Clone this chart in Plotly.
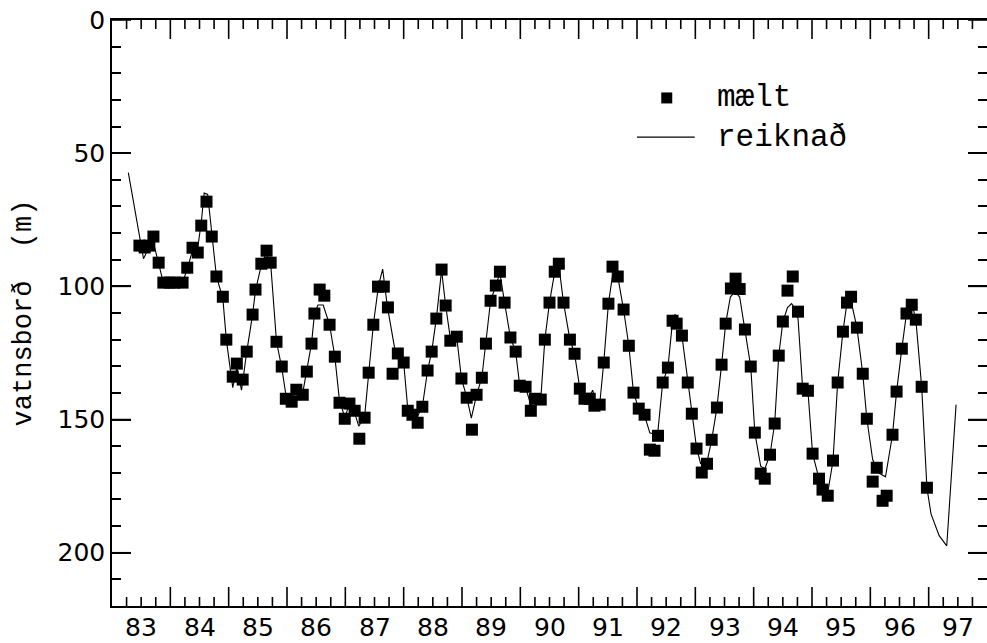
import plotly.graph_objects as go

# ---------------- data (decimal year, water level in m) ----------------
measured_year = [
    83.47, 83.56, 83.64, 83.71, 83.80, 83.88, 83.99, 84.07, 84.21, 84.29,
    84.38, 84.47, 84.53, 84.62, 84.71, 84.79, 84.90, 84.96, 85.07, 85.14,
    85.24, 85.31, 85.41, 85.46, 85.56, 85.65, 85.72, 85.82, 85.91, 85.98,
    86.08, 86.16, 86.27, 86.34, 86.42, 86.47, 86.56, 86.64, 86.73, 86.82,
    86.90, 86.99, 87.07, 87.16, 87.24, 87.33, 87.40, 87.48, 87.56, 87.66,
    87.73, 87.81, 87.90, 88.00, 88.07, 88.15, 88.24, 88.32, 88.41, 88.48,
    88.56, 88.65, 88.72, 88.80, 88.91, 88.99, 89.08, 89.17, 89.25, 89.34,
    89.41, 89.49, 89.58, 89.65, 89.73, 89.83, 89.92, 89.99, 90.09, 90.18,
    90.25, 90.35, 90.42, 90.50, 90.59, 90.66, 90.74, 90.85, 90.93, 91.02,
    91.10, 91.19, 91.27, 91.36, 91.43, 91.51, 91.58, 91.67, 91.77, 91.86,
    91.94, 92.03, 92.13, 92.22, 92.30, 92.36, 92.44, 92.53, 92.61, 92.68,
    92.77, 92.87, 92.94, 93.02, 93.11, 93.20, 93.28, 93.37, 93.45, 93.52,
    93.61, 93.69, 93.76, 93.85, 93.95, 94.02, 94.12, 94.19, 94.28, 94.36,
    94.43, 94.50, 94.58, 94.67, 94.76, 94.84, 94.93, 95.01, 95.12, 95.18,
    95.27, 95.36, 95.44, 95.53, 95.60, 95.67, 95.77, 95.87, 95.94, 96.04,
    96.11, 96.21, 96.28, 96.38, 96.45, 96.54, 96.62, 96.71, 96.78, 96.88,
    96.97,
]
measured_level = [
    84.7, 85.4, 84.7, 81.3, 91.1, 98.6, 98.6, 98.6, 98.6, 93.0,
    85.5, 87.3, 77.2, 68.2, 81.3, 96.3, 103.9, 120.0, 133.9, 129.0,
    135.0, 124.5, 110.6, 101.2, 91.5, 86.6, 91.1, 120.8, 130.1, 142.2,
    143.3, 138.8, 140.7, 132.0, 121.5, 110.2, 101.2, 103.5, 114.4, 126.4,
    143.7, 149.7, 144.0, 146.7, 157.2, 149.3, 132.4, 114.4, 100.1, 100.1,
    107.9, 132.8, 125.2, 128.6, 146.7, 148.2, 151.2, 145.2, 131.6, 124.5,
    112.1, 93.7, 107.2, 120.4, 118.9, 134.6, 141.8, 153.8, 140.7, 134.3,
    121.5, 105.4, 99.7, 94.5, 106.1, 119.2, 124.5, 137.3, 137.7, 146.7,
    142.2, 142.5, 120.0, 106.1, 94.5, 91.5, 106.1, 120.0, 125.3, 138.4,
    142.2, 142.2, 144.8, 144.4, 128.6, 106.5, 92.6, 96.3, 108.7, 122.3,
    139.9, 145.9, 148.2, 161.3, 161.7, 156.1, 136.1, 130.5, 112.9, 114.0,
    118.5, 136.1, 147.8, 160.9, 169.9, 166.6, 157.6, 145.5, 129.4, 114.0,
    100.8, 97.1, 101.0, 116.2, 130.1, 154.9, 170.3, 172.2, 163.2, 151.5,
    126.0, 113.2, 101.6, 96.3, 109.5, 138.4, 139.2, 162.8, 172.2, 176.3,
    178.6, 165.4, 136.1, 117.0, 106.1, 103.9, 115.5, 132.8, 149.7, 173.3,
    168.1, 180.5, 178.6, 155.7, 139.5, 123.4, 110.2, 106.9, 112.5, 137.7,
    175.6,
]

calc_year = [
    83.28, 83.54, 83.62, 83.71, 83.80, 83.88, 84.21, 84.29, 84.38, 84.47,
    84.53, 84.58, 84.64, 84.71, 84.79, 84.90, 84.96, 85.07, 85.14, 85.22,
    85.31, 85.41, 85.46, 85.56, 85.64, 85.72, 85.82, 85.91, 86.00, 86.08,
    86.16, 86.27, 86.34, 86.42, 86.47, 86.53, 86.62, 86.73, 86.82, 86.90,
    86.99, 87.07, 87.16, 87.23, 87.33, 87.40, 87.48, 87.57, 87.64, 87.72,
    87.86, 88.00, 88.07, 88.15, 88.22, 88.32, 88.41, 88.48, 88.56, 88.65,
    88.72, 88.80, 88.91, 88.99, 89.08, 89.16, 89.25, 89.34, 89.41, 89.49,
    89.58, 89.65, 89.73, 89.83, 89.92, 89.99, 90.09, 90.18, 90.25, 90.35,
    90.42, 90.50, 90.59, 90.66, 90.74, 90.85, 90.93, 91.02, 91.10, 91.18,
    91.24, 91.30, 91.36, 91.43, 91.51, 91.60, 91.67, 91.77, 91.86, 91.94,
    92.03, 92.13, 92.22, 92.29, 92.36, 92.44, 92.53, 92.61, 92.65, 92.70,
    92.77, 92.87, 92.94, 93.02, 93.09, 93.20, 93.28, 93.37, 93.45, 93.52,
    93.60, 93.68, 93.76, 93.85, 93.95, 94.02, 94.12, 94.19, 94.28, 94.36,
    94.43, 94.50, 94.58, 94.65, 94.70, 94.76, 94.84, 94.93, 95.01, 95.12,
    95.18, 95.27, 95.36, 95.44, 95.53, 95.60, 95.66, 95.77, 95.87, 95.94,
    96.04, 96.14, 96.26, 96.38, 96.45, 96.54, 96.62, 96.71, 96.78, 96.88,
    96.97, 97.04, 97.18, 97.31, 97.47,
]
calc_level = [
    57.3, 89.6, 86.0, 83.5, 91.5, 98.6, 98.6, 93.5, 86.5, 85.5,
    76.0, 65.0, 65.5, 81.0, 96.3, 104.5, 120.0, 138.0, 130.5, 139.0,
    124.5, 110.6, 101.5, 92.0, 87.5, 91.5, 120.8, 130.5, 143.5, 142.0,
    138.0, 140.0, 132.0, 121.5, 110.5, 107.0, 107.0, 114.4, 126.4, 143.0,
    149.0, 144.5, 147.5, 152.5, 149.0, 132.4, 114.4, 99.5, 93.5, 107.5,
    125.0, 128.6, 146.0, 148.5, 149.5, 145.2, 131.6, 124.5, 112.1, 94.0,
    107.2, 119.5, 119.0, 134.6, 141.5, 149.5, 140.7, 134.3, 121.5, 105.4,
    99.7, 95.0, 106.1, 119.2, 124.5, 137.3, 138.0, 144.5, 142.5, 142.5,
    120.0, 106.1, 94.5, 92.0, 106.1, 120.0, 125.3, 138.4, 142.2, 141.5,
    139.0, 144.0, 144.4, 128.6, 106.5, 93.0, 96.3, 108.7, 122.3, 139.9,
    145.9, 148.5, 155.0, 155.5, 154.0, 136.1, 130.5, 112.9, 110.5, 112.5,
    118.5, 136.1, 147.8, 160.5, 166.5, 166.0, 157.6, 145.5, 129.4, 114.0,
    104.0, 102.0, 104.0, 116.2, 130.1, 154.9, 167.5, 168.5, 163.2, 151.5,
    126.0, 113.2, 108.0, 106.5, 108.0, 112.0, 138.4, 139.2, 162.8, 172.2,
    176.0, 177.5, 165.4, 136.1, 117.0, 106.1, 104.5, 115.5, 132.8, 149.7,
    165.0, 170.0, 171.5, 155.7, 139.5, 123.4, 110.2, 106.0, 112.5, 137.7,
    175.6, 185.4, 193.6, 197.4, 144.4,
]

year_tick_labels = ["83", "84", "85", "86", "87", "88", "89", "90",
                    "91", "92", "93", "94", "95", "96", "97"]
year_label_pos = [83.5, 84.5, 85.5, 86.5, 87.5, 88.5, 89.5, 90.5,
                  91.5, 92.5, 93.5, 94.5, 95.5, 96.5, 97.5]
year_bounds = [84, 85, 86, 87, 88, 89, 90, 91, 92, 93, 94, 95, 96, 97]
quarter_marks = [83.25, 83.5, 83.75]          # offsets repeated in each year
level_ticks = [0, 50, 100, 150, 200]
x_range = [83, 98]
y_range = [220, 0]

legend_measured = "mælt"
legend_calc = "reiknað"
y_title = "vatnsborð  (m)"

# ---------------- figure ----------------
fig = go.Figure()
fig.add_trace(go.Scatter(
    x=calc_year, y=calc_level, mode="lines",
    line=dict(color="black", width=1.1),
    showlegend=False, name=legend_calc))
fig.add_trace(go.Scatter(
    x=measured_year, y=measured_level, mode="markers",
    marker=dict(symbol="square", size=12, color="black", line=dict(width=0)),
    showlegend=False, name=legend_measured))

tick_font = dict(family="DejaVu Sans", size=25, color="black")

fig.update_layout(
    template="none",
    width=987, height=643,
    margin=dict(l=112, r=0, t=20, b=37),
    paper_bgcolor="white", plot_bgcolor="white",
    showlegend=False,
    xaxis=dict(
        range=x_range, showticklabels=False, ticks="",
        showgrid=False, zeroline=False,
        showline=True, linecolor="black", linewidth=2, mirror=True,
    ),
    yaxis=dict(
        range=y_range, tickmode="array", tickvals=level_ticks,
        ticks="inside", ticklen=19, tickwidth=2, tickcolor="black",
        showgrid=False, zeroline=False, showline=True, linecolor="black",
        linewidth=1.5, mirror="ticks", tickfont=tick_font,
        minor=dict(dtick=10, ticks="inside", ticklen=9, tickwidth=2,
                   tickcolor="black"),
        title=dict(text=y_title, font=dict(family="Liberation Mono", size=27,
                                           color="black"), standoff=18),
    ),
)

# ---- year-axis tick marks, placed through the x scale (bottom and top) ----
tick_line = dict(color="black", width=1.6)
minor_positions = [yb - 1 + (q - 83) for yb in year_bounds + [98]
                   for q in quarter_marks]
for pos, length in [(p, 19) for p in year_bounds] + \
                   [(p, 9) for p in minor_positions]:
    fig.add_shape(type="line", xref="x", yref="paper", ysizemode="pixel",
                  yanchor=0, x0=pos, x1=pos, y0=0, y1=length, line=tick_line)
    fig.add_shape(type="line", xref="x", yref="paper", ysizemode="pixel",
                  yanchor=1, x0=pos, x1=pos, y0=-length, y1=0, line=tick_line)

# ---- level-axis major ticks (left and right), reinforcing the axis ticks ----
for val in level_ticks:
    fig.add_shape(type="line", xref="paper", yref="y", xsizemode="pixel",
                  xanchor=0, x0=0, x1=19, y0=val, y1=val, line=tick_line)
    fig.add_shape(type="line", xref="paper", yref="y", xsizemode="pixel",
                  xanchor=1, x0=-19, x1=0, y0=val, y1=val, line=tick_line)

# year labels centred in each year (placed through the x scale)
for pos, lab in zip(year_label_pos, year_tick_labels):
    fig.add_annotation(text=lab, xref="x", yref="paper", x=pos, y=-0.0375,
                       xanchor="center", yanchor="middle", showarrow=False,
                       font=tick_font)

# legend drawn in paper coordinates
legend_font = dict(family="Liberation Mono", size=31, color="black")
fig.add_shape(type="rect", xref="paper", yref="paper",
              xsizemode="pixel", ysizemode="pixel",
              xanchor=0.634, yanchor=0.867, x0=-5.5, x1=5.5, y0=-5.5, y1=5.5,
              fillcolor="black", line=dict(width=0))
fig.add_shape(type="line", xref="paper", yref="paper",
              x0=0.600, x1=0.666, y0=0.800, y1=0.800,
              line=dict(color="black", width=1.3))
fig.add_annotation(text=legend_measured, xref="paper", yref="paper",
                   x=0.689, y=0.867, xanchor="left", yanchor="middle",
                   showarrow=False, font=legend_font)
fig.add_annotation(text=legend_calc, xref="paper", yref="paper",
                   x=0.689, y=0.800, xanchor="left", yanchor="middle",
                   showarrow=False, font=legend_font)

fig.write_html("out.html")
